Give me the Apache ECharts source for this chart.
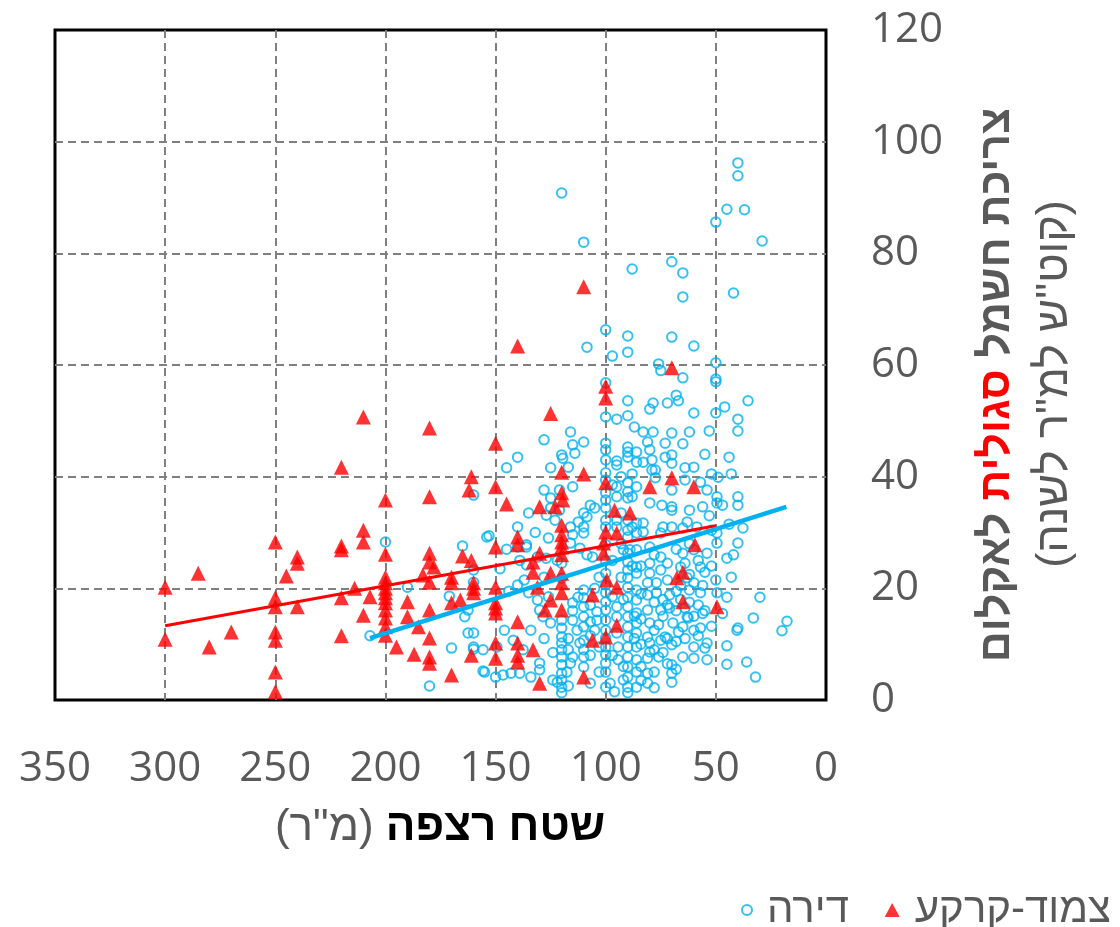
<!DOCTYPE html>
<html>
<head>
<meta charset="utf-8">
<script src="https://cdn.jsdelivr.net/npm/echarts@6/dist/echarts.min.js"></script>
<style>
  html, body { margin: 0; padding: 0; background: #fff; }
  #chart { width: 1120px; height: 927px; }
</style>
</head>
<body>
<div id="chart"></div>
<script>
// Floor area (m²) vs. specific electricity use (kWh per m² per year)
const seriesNames = ['דירה', 'צמוד-קרקע'];
const xTicks = [0, 50, 100, 150, 200, 250, 300, 350];
const yTicks = [0, 20, 40, 60, 80, 100, 120];

// Apartments
const apartments = [
  [120,90.8],[110,82],[88,77.2],[70,78.5],[65,76.5],[65,72.2],[42,72.9],[50,85.6],[45,87.9],[37,87.8],[40,96.2],[40,93.9],[29,82.2],
  [100,66.3],[90,65.2],[108.5,63.2],[97,61.6],[90,62.3],[70,65],[60,63.4],[76,60.2],[75,59],[65,57.7],[50,60.4],[50,57.5],[100,56.8],
  [90,53.6],[100,50.7],[95,50.3],[90,50.9],[87,48.9],
  [116,48],[110,46.2],[128,46.6],[115,45.7],[120,43.9],[119.5,43.3],[114,44.2],[140,43.5],[145,41.6],[125,41.6],[117,41.7],
  [100,46],[100,44.8],[100,43],[95,42.8],[95,42.1],[90,45.3],[90,44.4],[86,44.4],[86,42.6],[90,43.5],
  [100,40.7],[100,39.4],[95,38.2],[90,38.9],[90,37.3],[95,36.4],[90,36.2],[88,36.4],[86,38.2],
  [128,37.6],[125,36.2],[121,37.6],[115,38.2],[125,34.4],[127,33.1],[123,32.2],[121,34],[107,34.9],[110,33.5],[108.5,32.8],[105,34.4],
  [112.5,31.9],[110,31],[116,31],[115,29.6],[110,29.9],
  [100,37.1],[100,35.8],[100,34.4],[100,32.2],[100,31],[95,32.2],[95,31],[90,32.2],[90,30.4],[90,29.2],[86,31.7],[86,29.9],
  [140,31],[153,29.4],[160,36.7],
  [50,57],[35.4,53.6],[46,52.5],[50,51.4],[40,50.3],[40,48.2],
  [80,52.1],[78.5,53.2],[72,53.2],[68,54.6],[67,53.6],[60,51.4],[53,48.2],
  [83,48],[78.5,48],[70,47.8],[62,48],
  [81,46.2],[80,44.8],[73,46],[65,45.9],
  [79,43],[73,43.5],[70,43.9],[70,42.4],[83,42.6],
  [79,41.2],[77.5,41.2],[64,41.6],[60,41.7],
  [77.5,39.8],[70,37.6],[64,39.4],[57,39],[54,37.6],[49,39.9],[43,40.5],
  [80,35.3],[74.5,34.9],[70,34.6],[70,34],[62,34],[56,34.6],[49.5,36.4],[49.5,35.3],[47,34.9],[40,36.4],[40,34.9],
  [83,31.7],[74,31],[70,31],[65,30.8],[63,31.9],[58.6,31],[52,30.4],[49.5,29.9],[37.7,30.8],[83,30.1],[75,29.9],
  [120,24.5],[120,21.8],[120,14.3],[120,12.9],[120,11.3],[120,10.2],[120,9],[120,7.7],[120,6.3],[120,4.8],[120,3.6],[120,2.3],[120,1.3],
  [110,19.7],[110,18.3],[110,16.7],[110,14.9],[110,13.1],[110,10.7],[110,9],[110,7.7],[110,5.9],
  [100,19.2],[100,17.6],[100,16.1],[100,14.3],[100,12.5],[100,11.1],[100,9.5],[100,8.1],[100,6.6],[100,5],[100,2.3],[100,27.8],[100,25],[100,22.7],[100,20.6],
  [90,26.3],[90,24.7],[90,23.3],[90,21.9],[90,20.2],[90,18.4],[90,16.7],[90,14.9],[90,13.1],[90,11.3],[90,9.5],[90,7.7],[90,5.9],[90,4.1],[90,2.3],[90,1.3],
  [86,26.9],[86,23.8],[86,22.7],[86,19.7],[86,17.9],[86,15.6],[86,13.8],[86,12],[86,9.5],[86,7.2],[86,5],[86,2.3],
  [140,27.4],[136,27.4],[139,25],[136,24.2],[140,20.6],[135,19.2],[131,17.9],[130,16.1],[128.5,14.9],[125,13.8],[146,12.5],[142,10.7],
  [137.5,9],[130,6.6],[130,5.4],[134,4.1],[139,4.8],[143,4.8],[146.6,4.5],[150,4.1],[155,5],[124,3.6],[122,3.2],[117.6,5],[116,6.6],
  [115,7.7],[111.7,10.2],[113,12.5],[115,14.3],[115,17.4],[112.6,18.4],
  [155.7,9],[149.4,9.5],[160,12],[160,9.5],
  [104,15.8],[104,14.3],[105,12.5],
  [95,16.7],[95,14.9],[95,12],[94.4,9.5],[94.4,7.2],[92,3.6],
  [136,27.8],[131,25.6],[127,25.4],[122,25],[116,28.1],[111.7,27.2],[108.5,26],[106,25.6],[92,26.9],[89,26.9],
  [80,27.4],[75,25.6],[65,26.3],[60,26.9],[54,26.3],[49.5,28.1],[40,28.1],[45,25.4],
  [80,24.5],[80,22.7],[75,23.3],[72,21.5],[66,23.8],[63,21.9],[57,23.8],[55,22.9],[62,19.7],[57,19.2],
  [49.5,19.2],[45,18.4],[30,18.4],
  [81,21],[77,21],[81,18.8],[77,19.2],[71,18.8],[81,16.1],[75,16.1],[71,16.5],
  [63,14.9],[62.6,14.7],[65,13.1],[60,12.5],[57,12.9],[52,13.2],[69.5,13.8],[67,12.2],
  [80,13.8],[81,11.3],[80,10.2],[75,10.7],[80,8.6],[73,11.3],[70,9.9],[54,10.2],[55,9.3],
  [81,7.5],[76,7.7],[70,6.3],[65,7.7],[60,7.5],[54,7.2],
  [81,4.8],[70,4.8],[70,3.2],[81,3],
  [45,9.7],[45,6.4],[36,6.8],[32,4.1],
  [40,12.9],[40.4,12.5],[33,14.7],[20,12.4],[17.7,14.1],
  [200,28.3],[190,20.2],[165,27.6],[154,29.2],[160,23.3],[160,21.1],[171,18.6],[164,14.9],[162.5,12],[170,9.3],[160,9.1],
  [155.7,5.2],[180,2.5],[207,11.5],[162.5,16.1],
  [117,2.5],[117,9],[117,11],[115,16],[107,3],[107,8],[107,11.5],[107,14],[107,17],[105,20],[103,22],[103,5],[103,9.5],
  [84,24],[84,19],[84,14.5],[84,10],[84,6],[84,3.5],[78,26],[78,17.5],[78,12.5],[78,9],[78,5],[78,2.2],
  [76,13.5],[74,18],[74,15],[74,8.5],[72,24.5],[72,17],[72,11],[72,6.5],[68,27],[68,19.5],[68,16],[68,10.5],[68,5.5],
  [66,20.5],[66,18],[64,24.5],[64,16.5],[64,11],[62,28],[62,22.5],[62,17.5],[60,21],[60,15],[60,9.5],[58,25],[58,17],[58,11.5],
  [56,20.5],[56,15.5],
  [93,22],[93,28],[93,33.5],[93,40],[97,25],[97,38.5],[88,24],[88,31],[88,40.5],[87,15],[87,11],[92,6],[92,18],[97,8],[97,18.5],[98,3],[96,1.5],
  [132,30],[135,33.5],[137,21.5],[144,19.5],[148,23.5],[145,27],[128,22],[126,29],[134,12.5],[128,11],[124,8.5],[126,18.5],
  [52,40.5],[44,43.5],[55,44],[53,33],[44,31.5],[42,26],[52,24],[50,21.5],[47,15.5],[43,22],[55,16]
];

// Detached houses
const houses = [
  [300,20.2],[300,10.9],[285,22.7],[280,9.5],[270,12.2],
  [250,28.3],[250,18.3],[250,16.7],[250,12.2],[250,10.7],[250,5],[250,1.5],
  [245,22.2],[240,25.6],[240,24.5],[240,16.7],
  [220,41.7],[220,27.6],[220,26.9],[220,18.3],[220,11.5],
  [214,20],[210,50.7],[210,30.4],[210,28.3],[207,18.5],[210,15.2],
  [200,35.8],[200,26.1],[200,22],[200,21],[200,20],[200,19.2],[200,18.3],[200,17.4],[200,16.1],[200,14.7],[200,13.1],[200,11.6],
  [195,9.5],[190,17.6],[190,14.9],[185,13.1],[187,8.2],
  [180,48.7],[180,36.4],[180,26.3],[180,24.7],[178,23.8],[183,22.4],[180,21.1],[180,16.1],[180,11.1],[180,7.7],[180,6.6],
  [170,22],[170,21],[170,17.4],[166,17.9],[170,4.5],
  [165,25.8],[161,40],[162,37.6],[161,25],[161,8],
  [160,21],[160,20],[160,19.2],
  [150,46],[150,38.2],[145,35.1],[150,27.4],[150,20.2],[150,17.4],[150,16.5],[150,15.6],[150,10.2],[150,7.5],
  [140,63.4],[140,29.2],[140,27.8],[140,14],[140,10.2],[140,8],[140,6.8],
  [133,9],[130,3],[130,34.6],[130,26.3],[133,24.7],[133,22.9],[131,20.2],
  [125,51.3],[125,22.7],[125,17.9],[127.5,16.1],[123,34.6],
  [120,40.8],[120,37.1],[119.5,35.8],[120,31.3],[120,29.6],[120,28.3],[120,27.4],[120,26],[120,22.7],[120,21],[120,19.2],[120,16.1],
  [110,74],[110,40.5],[110,4.1],[106,18.8],[106,10.7],
  [101,28.1],[101,26.3],[100,56.2],[100,54.1],[100,38.9],[100,30.1],[99.5,21.5],[100,11.3],
  [96,34],[95,29.9],[95,20.2],[95,13.4],
  [89,33.5],[80,38.2],[70,59.5],[70,39.8],[60,38.2],[59.5,27.8],[65,22.9],[67.7,21.9],[65,17.6],[49.5,16.7]
];

// Linear trend lines (end points)
const apartmentTrend = [[207, 11.1], [18, 34.6]];
const houseTrend = [[300, 13.3], [50, 31.2]];

const BLUE = '#00B0F0';
const RED = '#FF0000';
const GREY = '#595959';
const FONT = '"Open Sans", "DejaVu Sans", sans-serif';
const HEB = '"Liberation Sans", "DejaVu Sans", sans-serif';

const chart = echarts.init(document.getElementById('chart'), null, { renderer: 'canvas' });

const gridDash = { color: '#808080', width: 2, type: [8, 5] };
const legendText = {
  color: GREY, fontSize: 42, fontFamily: HEB,
  rich: { t: { color: GREY, fontSize: 42, fontFamily: HEB, padding: [0, 0, 0, 10] } }
};

chart.setOption({
  animation: false,
  backgroundColor: '#fff',
  grid: {
    left: 55, right: 294, top: 30, bottom: 227,
    show: true, borderColor: '#000', borderWidth: 3, backgroundColor: 'transparent'
  },
  xAxis: {
    type: 'value', inverse: true,
    min: xTicks[0], max: xTicks[xTicks.length - 1], interval: 50,
    axisLine: { show: false }, axisTick: { show: false },
    axisLabel: { color: GREY, fontSize: 42, fontFamily: FONT, margin: 48 },
    splitLine: { show: true, showMinLine: false, showMaxLine: false, lineStyle: gridDash }
  },
  yAxis: {
    type: 'value', position: 'right',
    min: yTicks[0], max: yTicks[yTicks.length - 1], interval: 20,
    axisLine: { show: false }, axisTick: { show: false },
    axisLabel: { color: GREY, fontSize: 42, fontFamily: FONT, margin: 45, align: 'left' },
    splitLine: { show: true, showMinLine: false, showMaxLine: false, lineStyle: gridDash }
  },
  legend: [
    {
      data: [seriesNames[0]],
      left: 736, top: 884,
      itemWidth: 10, itemHeight: 10,
      formatter: n => '{t|' + n + '}',
      textStyle: legendText
    },
    {
      data: [seriesNames[1]],
      right: 4, top: 884,
      itemWidth: 15, itemHeight: 14,
      formatter: n => '{t|' + n + '}',
      textStyle: legendText
    }
  ],
  graphic: [
    {
      type: 'text', x: 440, y: 828, z: 10,
      style: {
        text: '{g|(מ"ר) }{b|שטח רצפה}',
        align: 'center', verticalAlign: 'middle',
        rich: {
          g: { fontSize: 44, fontFamily: HEB, fill: GREY, color: GREY },
          b: { fontSize: 44, fontFamily: HEB, fontWeight: 'bold', fill: '#000', color: '#000' }
        }
      }
    },
    {
      type: 'text', x: 997, y: 385, rotation: Math.PI / 2, z: 10,
      style: {
        text: '{g|לאקלום }{r|סגולית }{g|צריכת חשמל}',
        align: 'center', verticalAlign: 'middle',
        rich: {
          g: { fontSize: 43, fontFamily: HEB, fontWeight: 'bold', fill: GREY, color: GREY },
          r: { fontSize: 43, fontFamily: HEB, fontWeight: 'bold', fill: RED, color: RED }
        }
      }
    },
    {
      type: 'text', x: 1055, y: 384, rotation: Math.PI / 2, z: 10,
      style: {
        text: '(קוט"ש למ"ר לשנה)',
        align: 'center', verticalAlign: 'middle',
        fontSize: 45, fontFamily: HEB, fill: GREY
      }
    }
  ],
  series: [
    {
      name: seriesNames[0], type: 'scatter', data: apartments,
      symbol: 'circle', symbolSize: 9.5, z: 2,
      itemStyle: { color: 'rgba(255,255,255,0)', borderColor: BLUE, borderWidth: 2 }
    },
    {
      name: seriesNames[1], type: 'scatter', data: houses,
      symbol: 'triangle', symbolSize: [15, 15], z: 3,
      itemStyle: { color: RED }
    },
    {
      name: 'houseTrend', type: 'line', data: houseTrend, z: 4,
      symbol: 'none', silent: true,
      lineStyle: { color: RED, width: 3 }
    },
    {
      name: 'apartmentTrend', type: 'line', data: apartmentTrend, z: 5,
      symbol: 'none', silent: true,
      lineStyle: { color: BLUE, width: 4.5 }
    }
  ]
});
</script>
</body>
</html>
